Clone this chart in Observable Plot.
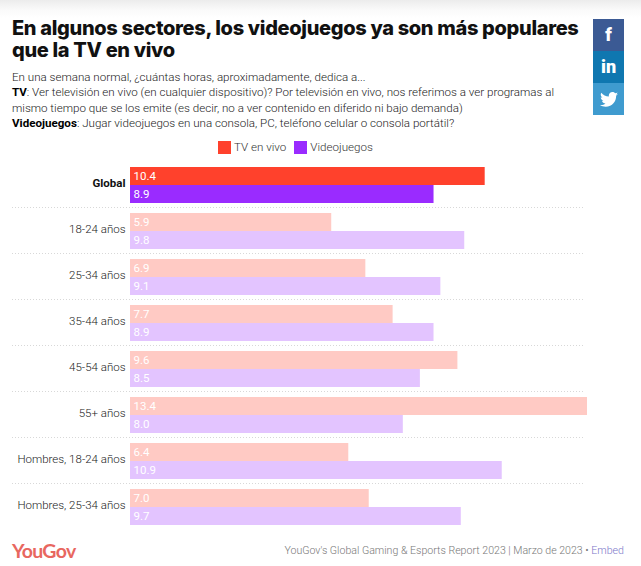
<!DOCTYPE html>
<html><head><meta charset="utf-8">
<script src="https://cdn.jsdelivr.net/npm/d3@7"></script>
<script src="https://cdn.jsdelivr.net/npm/@observablehq/plot@0.6"></script>
<style>
html,body{margin:0;padding:0;background:#fff;}
#page{position:relative;width:641px;height:566px;overflow:hidden;font-family:Roboto,sans-serif;color:#333;
 background:linear-gradient(#ececec 0,#fafafa 10px,#fff 18px);}
#page>*{position:absolute;}
h1{margin:0;left:12px;top:18px;width:578px;font:800 20px/21.5px Inter,sans-serif;letter-spacing:-.33px;color:#111;}
#sub{left:12px;top:70px;width:552px;font:300 11.6px/15.4px Roboto,sans-serif;color:#222;}
#sub b{font-weight:700;color:#000;}
#legend{left:218px;top:140px;display:flex;gap:8px;font:300 11.6px/15px Roboto,sans-serif;color:#333;}
#legend span{display:flex;align-items:center;gap:3px;}
#legend i{display:inline-block;width:13px;height:13px;}
#chart{left:0;top:160px;}
.s{left:593px;width:31px;color:#fff;display:flex;align-items:center;justify-content:center;font:900 18px/1 Roboto,sans-serif;}
#logo{left:12px;top:539px;font:700 19.5px/24px Lato,sans-serif;letter-spacing:-.7px;color:#e8675f;}
#foot{right:17px;top:543px;font:300 10.6px/15px Roboto,sans-serif;color:#777;}
#foot a{color:#7a76c9;}
</style></head><body>
<div id="page">
<h1>En algunos sectores, los videojuegos ya son más populares que la TV en vivo</h1>
<div id="sub">En una semana normal, ¿cuántas horas, aproximadamente, dedica a...<br>
<b>TV</b>: Ver televisión en vivo (en cualquier dispositivo)? Por televisión en vivo, nos referimos a ver programas al mismo tiempo que se los emite (es decir, no a ver contenido en diferido ni bajo demanda)<br>
<b>Videojuegos</b>: Jugar videojuegos en una consola, PC, teléfono celular o consola portátil?</div>
<div id="legend"><span><i style="background:#ff412c"></i>TV en vivo</span><span><i style="background:#9a2bff"></i>Videojuegos</span></div>
<div class="s" style="top:19px;height:32px;background:#3b5a94">f</div>
<div class="s" style="top:51px;height:32px;background:#0f77b0">in</div>
<div class="s" style="top:83px;height:32px;background:#3f9bcf"><svg width="18" height="15" viewBox="0 0 24 20"><path fill="#fff" d="M24 2.4c-.9.4-1.8.7-2.8.8 1-.6 1.8-1.6 2.2-2.7-1 .6-2 1-3.1 1.2C19.3.7 18 0 16.6 0c-2.7 0-4.9 2.2-4.9 4.9 0 .4 0 .8.1 1.1C7.700 5.800 4.100 3.900 1.700.9 1.200 1.700 1 2.500 1 3.400c0 1.700.9 3.200 2.200 4.100-.8 0-1.600-.2-2.200-.6v.1c0 2.400 1.700 4.400 3.900 4.800-.4.1-.8.200-1.300.2-.3 0-.6 0-.9-.1.600 2 2.400 3.400 4.600 3.400-1.700 1.300-3.800 2.100-6.100 2.100-.4 0-.8 0-1.200-.1C2.200 18.700 4.800 19.500 7.500 19.500c9.100 0 14-7.500 14-14v-.6c1-.7 1.800-1.600 2.500-2.500z"/></svg></div>
<div id="chart"></div>
<div id="logo">YouGov</div>
<div id="foot">YouGov's Global Gaming &amp; Esports Report 2023 | Marzo de 2023 • <a>Embed</a></div>
</div>
<script>
const categories = ["Global","18-24 años","25-34 años","35-44 años","45-54 años","55+ años","Hombres, 18-24 años","Hombres, 25-34 años"];
const tvValues = [10.4,5.9,6.9,7.7,9.6,13.4,6.4,7.0];
const gameValues = [8.9,9.8,9.1,8.9,8.5,8.0,10.9,9.7];
const seriesNames = ["TV en vivo","Videojuegos"];
const seriesColors = ["#ff412c","#9a2bff"];

const rows = categories.flatMap((c,i)=>[
  {cat:c, series:seriesNames[0], v:tvValues[i]},
  {cat:c, series:seriesNames[1], v:gameValues[i]}
]);
const font = "Roboto, sans-serif";
const plot = Plot.plot({
  width:641, height:370,
  marginLeft:130, marginRight:54, marginTop:7, marginBottom:5,
  style:{background:"transparent", fontFamily:font},
  x:{domain:[0,13.4], axis:null},
  y:{domain:seriesNames, axis:null, padding:0},
  fy:{domain:categories, axis:null, paddingInner:10/46, paddingOuter:0, round:false},
  color:{domain:seriesNames, range:seriesColors},
  marks:[
    Plot.barX(rows,{x:"v", y:"series", fy:"cat", fill:"series",
      fillOpacity:d=>d.cat==="Global"?1:0.28}),
    Plot.text(rows,{x:0, y:"series", fy:"cat", text:d=>d.v.toFixed(1), dx:3, dy:-0.5, textAnchor:"start",
      fill:"#fff", fontSize:11.5, fontWeight:400}),
    Plot.text(categories.filter(c=>c==="Global"),{text:d=>d, fy:d=>d, frameAnchor:"left", dx:-5, dy:-2, textAnchor:"end",
      fontSize:11.5, fontWeight:700, fill:"#111"}),
    Plot.text(categories.filter(c=>c!=="Global"),{text:d=>d, fy:d=>d, frameAnchor:"left", dx:-5, dy:-2, textAnchor:"end",
      fontSize:11.5, fontWeight:300, fill:"#222"}),
    Plot.ruleY(categories.slice(0,-1),{y:()=>seriesNames[1], fy:d=>d, dy:13, insetLeft:-118, insetRight:2,
      stroke:"#d8d8d8", strokeDasharray:"1,2", strokeWidth:1})
  ]
});
document.getElementById("chart").append(plot);
</script>
</body></html>
